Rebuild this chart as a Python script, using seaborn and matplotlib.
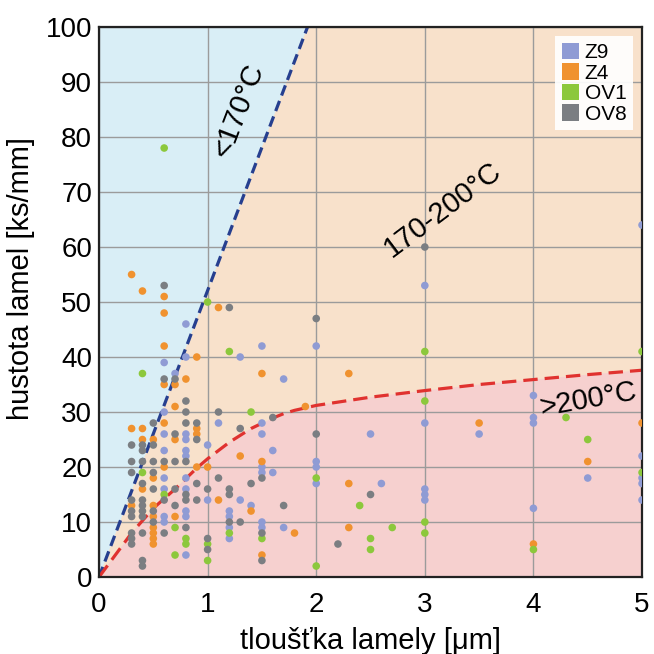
import matplotlib
matplotlib.use("Agg")
import matplotlib.pyplot as plt
from matplotlib.patches import Patch
import numpy as np
import pandas as pd
import seaborn as sns

# --- data ---
z9_x = [0.6, 0.6, 0.6, 0.6, 0.6, 0.6, 0.6, 0.6,
        0.7,
        0.8, 0.8, 0.8, 0.8, 0.8, 0.8, 0.8, 0.8, 0.8, 0.8, 0.8,
        1.0, 1.0, 1.1, 1.2, 1.2, 1.2, 1.2, 1.3, 1.3, 1.4,
        1.5, 1.5, 1.5, 1.5, 1.5, 1.5, 1.5, 1.6, 1.6, 1.7, 1.7,
        2.0, 2.0, 2.0, 2.0, 2.5, 2.6,
        3.0, 3.0, 3.0, 3.0, 3.0, 3.5,
        4.0, 4.0, 4.0, 4.0, 4.5,
        5.0, 5.0, 5.0, 5.0, 5.0]
z9_y = [39, 30, 26, 23, 18, 16, 11, 10,
        37,
        46, 40, 26, 25, 23, 22, 18, 16, 12, 11, 4,
        24, 14, 28, 12, 11, 9, 7, 40, 14, 13,
        42, 28, 26, 20, 19, 10, 9, 23, 19, 36, 9,
        42, 21, 20, 17, 26, 17,
        53, 28, 16, 15, 14, 26,
        33, 29, 28, 12.5, 18,
        64, 22, 18, 17, 14]

z4_x = [0.3, 0.3, 0.3,
        0.4, 0.4, 0.4, 0.4,
        0.5, 0.5, 0.5, 0.5, 0.5, 0.5, 0.5, 0.5,
        0.6, 0.6, 0.6, 0.6, 0.6, 0.6,
        0.7, 0.7, 0.7, 0.7,
        0.8,
        0.9, 0.9, 0.9, 0.9,
        1.0, 1.1, 1.1, 1.3, 1.4,
        1.5, 1.5, 1.5, 1.8, 1.9,
        2.3, 2.3, 2.3, 3.5, 4.0, 4.5, 5.0]
z4_y = [55, 27, 13,
        52, 27, 25, 16,
        25, 18, 13, 11, 9, 8, 7, 6,
        51, 48, 42, 35, 28, 20,
        35, 31, 25, 11,
        36,
        40, 27, 26, 20,
        20, 49, 14, 22, 12,
        37, 21, 4, 8, 31,
        37, 17, 9, 28, 6, 21, 28]

ov1_x = [0.4, 0.4, 0.6, 0.6, 0.7, 0.7, 0.8, 0.8,
         1.0, 1.0, 1.0, 1.2, 1.2, 1.4, 1.5,
         2.0, 2.0, 2.4, 2.5, 2.5, 2.7,
         3.0, 3.0, 3.0, 3.0, 4.0, 4.3, 4.5, 5.0, 5.0]
ov1_y = [37, 19, 78, 15, 9, 4, 7, 6,
         50, 6, 3, 41, 8, 30, 7,
         18, 2, 13, 7, 5, 9,
         41, 32, 10, 8, 5, 29, 25, 41, 19]

ov8_x = [0.3, 0.3, 0.3, 0.3, 0.3, 0.3, 0.3, 0.3, 0.3,
         0.4, 0.4, 0.4, 0.4, 0.4, 0.4, 0.4, 0.4, 0.4, 0.4, 0.4,
         0.5, 0.5, 0.5, 0.5, 0.5, 0.5, 0.5,
         0.6, 0.6, 0.6, 0.6, 0.6,
         0.7, 0.7, 0.7, 0.7, 0.7,
         0.8, 0.8, 0.8, 0.8, 0.8, 0.8, 0.8,
         0.9, 0.9, 0.9, 0.9,
         1.0, 1.0, 1.0, 1.1, 1.1,
         1.2, 1.2, 1.2, 1.2, 1.3, 1.3, 1.4,
         1.5, 1.5, 1.5, 1.6, 1.7,
         2.0, 2.0, 2.2, 2.5, 3.0]
ov8_y = [24, 21, 19, 14, 12, 11, 8, 7, 6,
         24, 23, 21, 17, 14, 13, 12, 11, 8, 3, 2,
         28, 24, 21, 19, 16, 12, 10,
         53, 36, 21, 14, 8,
         36, 26, 21, 16, 13,
         32, 30, 28, 21, 15, 14, 9,
         28, 25, 17, 14,
         16, 7, 5, 30, 18,
         49, 16, 15, 10, 27, 10, 17,
         18, 8, 3, 29, 13,
         47, 26, 6, 15, 60]

samples = ["Z9", "Z4", "OV1", "OV8"]
colors = ["#8f9bd4", "#f0922f", "#8cc83c", "#7b7e82"]

# region boundaries
blue_x = [0, 1.92]
blue_y = [0, 100]
red_x = [0, 0.3, 0.5, 0.7, 0.9, 1.0, 1.2, 1.4, 1.6, 1.7, 1.8, 2.0, 2.5, 3.0, 3.5, 4.0, 4.5, 5.0]
red_y = [0, 8, 12.5, 16, 19.8, 21.5, 24.5, 27, 28.9, 29.7, 30.3, 31.2, 32.7, 33.9, 35, 35.9, 36.8, 37.6]

df = pd.concat([
    pd.DataFrame({"x": z9_x, "y": z9_y, "vzorek": "Z9"}),
    pd.DataFrame({"x": z4_x, "y": z4_y, "vzorek": "Z4"}),
    pd.DataFrame({"x": ov1_x, "y": ov1_y, "vzorek": "OV1"}),
    pd.DataFrame({"x": ov8_x, "y": ov8_y, "vzorek": "OV8"}),
], ignore_index=True)

sns.set_style("white")
plt.rcParams["font.family"] = ["Liberation Sans", "DejaVu Sans"]
plt.rcParams["text.color"] = "black"
plt.rcParams["axes.labelcolor"] = "black"
plt.rcParams["xtick.color"] = "black"
plt.rcParams["ytick.color"] = "black"

fig = plt.figure(figsize=(6.54, 6.54), dpi=100)
ax = fig.add_axes([0.1514, 0.1177, 0.8303, 0.841])

ax.set_facecolor("#d9eef6")
ax.fill(blue_x + [5, 5], blue_y + [100, 0], color="#f8e1cb", lw=0, zorder=0)
ax.fill(red_x + [5, 0], red_y + [0, 0], color="#f6d0cf", lw=0, zorder=0)

ax.plot(blue_x, blue_y, color="#263f8f", lw=2.3, dashes=(3.4, 1.8), zorder=2)
ax.plot(red_x, red_y, color="#e0322f", lw=2.3, dashes=(4.5, 2.2), zorder=2)

sns.scatterplot(data=df, x="x", y="y", hue="vzorek", hue_order=samples,
                palette=colors, s=30, linewidth=0, legend=False, ax=ax, zorder=3)

ax.set_xlim(0, 5)
ax.set_ylim(0, 100)
ax.set_xticks(range(0, 6))
ax.set_yticks(range(0, 101, 10))
ax.set_axisbelow(True)
ax.grid(True, color="#9b9b9b", lw=1.0)
ax.tick_params(length=0, labelsize=20, labelcolor="black")
ax.tick_params(axis="x", pad=11)
ax.tick_params(axis="y", pad=5)
for sp in ax.spines.values():
    sp.set_color("#222222")
    sp.set_linewidth(1.6)

ax.set_xlabel("tloušťka lamely [μm]", fontsize=21, labelpad=6, color="black")
ax.set_ylabel("hustota lamel [ks/mm]", fontsize=21, color="black")
ax.yaxis.set_label_coords(-0.118, 0.542)

ax.text(1.29, 84.9, "<170°C", fontsize=21, rotation=69, ha="center", va="center")
ax.text(3.16, 66.8, "170-200°C", fontsize=21, rotation=37, ha="center", va="center")
ax.text(4.51, 32.2, ">200°C", fontsize=21, rotation=10, ha="center", va="center")

handles = [Patch(facecolor=c, edgecolor="none") for c in colors]
leg = ax.legend(handles, samples, loc="upper right", fontsize=15,
                handlelength=0.85, handleheight=0.85, handletextpad=0.25,
                labelspacing=0.05, borderpad=0.3, borderaxespad=0.45,
                fancybox=False, framealpha=0.92, facecolor="white", edgecolor="none")

fig.savefig("out.png", dpi=100)
